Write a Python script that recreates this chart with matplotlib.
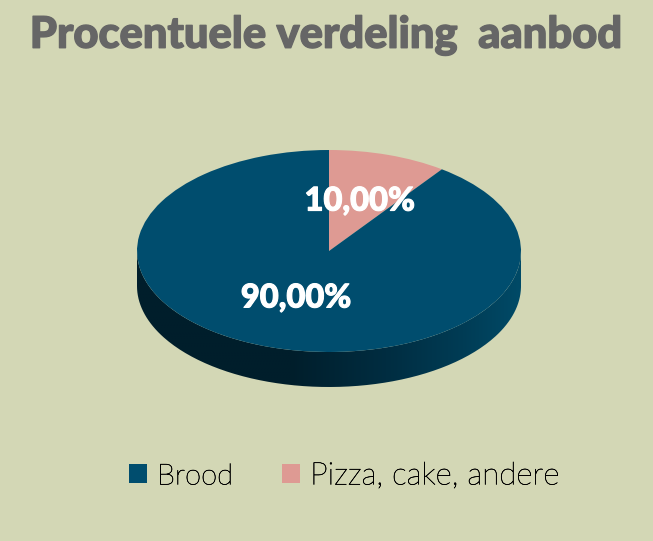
import numpy as np
import matplotlib
matplotlib.use("Agg")
import matplotlib.pyplot as plt
import matplotlib.patheffects as pe
from matplotlib.patches import PathPatch
from matplotlib.path import Path

categories = ["Brood", "Pizza, cake, andere"]
values = [90.0, 10.0]
colors = ["#004d6e", "#de9a93"]
title = "Procentuele verdeling  aanbod"

W, H = 653, 541
BG = "#d3d7b5"
CX, CY, RX, RY, DEPTH = 329, 251, 192, 101, 35

fig = plt.figure(figsize=(W / 100, H / 100), dpi=100, facecolor=BG)
ax = fig.add_axes([0, 0, 1, 1])

# 90 % slice runs on from the 10 % slice, clockwise from 12 o'clock
wedges, _, autotexts = ax.pie(
    values[::-1], colors=colors[::-1], startangle=90, counterclock=False,
    autopct=lambda p: f"{p:.2f}%".replace(".", ","), pctdistance=0.52,
    wedgeprops=dict(linewidth=0),
    textprops=dict(color="white", family="Lato", fontweight="black", fontsize=23.5),
)
ax.set_aspect("auto")
ax.set_facecolor(BG)
ax.axis("off")
for w in wedges:
    w.set_zorder(3)
for t in autotexts:
    t.set_zorder(5)
    t.set_path_effects([pe.withStroke(linewidth=0.8, foreground="white")])
# nudge the lower label a few pixels to where the reference has it
x0, y0 = autotexts[1].get_position()
autotexts[1].set_position((x0 - 2.0 / RX, y0 + 3.0 / RY))

# side wall of the disc
d = DEPTH / RY
th = np.linspace(np.pi, 2 * np.pi, 200)
xs = np.r_[np.cos(th), np.cos(th[::-1])]
ys = np.r_[np.sin(th) - d, np.sin(th[::-1])]
side = PathPatch(Path(np.c_[xs, ys]), fc="none", ec="none", zorder=1)
ax.add_patch(side)
stops_x = [-1.0, -0.2, 0.3, 0.7, 1.0]
stops_c = [(0, 30, 44), (0, 30, 43), (0, 45, 65), (0, 60, 85), (0, 74, 103)]
gx = np.linspace(-1, 1, 256)
grad = np.stack([np.interp(gx, stops_x, [c[i] for c in stops_c]) for i in range(3)], axis=-1)[None] / 255
im = ax.imshow(grad, extent=(-1, 1, -1 - d, 0), aspect="auto", zorder=2, interpolation="bilinear")
im.set_clip_path(side)
ax.set_xlim(-CX / RX, (W - CX) / RX)
ax.set_ylim(-(H - CY) / RY, CY / RY)

fig.text(326 / W, 1 - 35 / H, title, ha="center", va="center", color="#666666",
         family="Lato", fontweight="black", fontsize=31.3,
         path_effects=[pe.withStroke(linewidth=1.0, foreground="#666666")])

leg = ax.legend(
    [wedges[1], wedges[0]], categories, loc="center", bbox_to_anchor=(344 / W, 1 - 476 / H),
    ncol=2, frameon=False, handlelength=0.6, handleheight=0.6, handletextpad=0.33,
    columnspacing=1.6, borderpad=0, prop=dict(family="Lato", weight="light", size=22),
    labelcolor="black",
)
leg.get_texts()[0].set_fontsize(21)
leg.get_texts()[1].set_fontsize(22.6)
for t in leg.get_texts():
    t.set_path_effects([pe.withStroke(linewidth=0.35, foreground="black")])
fig.savefig("out.png", dpi=100, facecolor=BG)
